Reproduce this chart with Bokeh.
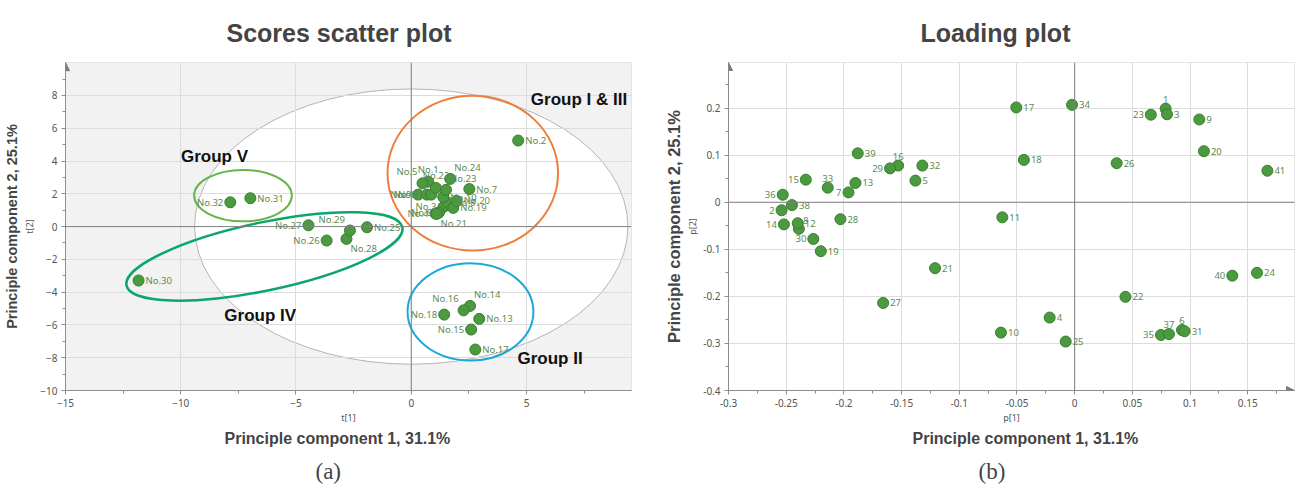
from bokeh.plotting import figure
from bokeh.models import (ColumnDataSource, Range1d, FixedTicker, Span, Title, Arrow, NormalHead)
from bokeh.layouts import row
from bokeh.embed import file_html
from bokeh.resources import INLINE
from bokeh.core.properties import value, field

# ---------------- Scores (a) ----------------
score_names = ["No.1", "No.2", "No.3", "No.4", "No.5", "No.6", "No.7", "No.8", "No.9", "No.10",
               "No.11", "No.12", "No.13", "No.14", "No.15", "No.16", "No.17", "No.18", "No.19", "No.20",
               "No.21", "No.22", "No.23", "No.24", "No.25", "No.26", "No.27", "No.28", "No.29", "No.30",
               "No.31", "No.32"]
score_t1 = [0.74, 4.64, 1.40, 1.05, 0.49, 1.20, 2.52, 1.57, 0.30, 1.39,
            0.68, 0.87, 2.95, 2.55, 2.60, 2.27, 2.78, 1.43, 1.82, 1.97,
            1.10, 1.07, 1.51, 1.69, -1.92, -3.67, -4.46, -2.81, -2.66, -11.83,
            -6.98, -7.85]
score_t2 = [2.74, 5.25, 1.20, 0.80, 2.64, 0.85, 2.29, 1.47, 1.95, 1.80,
            1.95, 1.95, -5.63, -4.84, -6.28, -5.11, -7.50, -5.37, 1.14, 1.57,
            0.77, 2.36, 2.24, 2.91, -0.04, -0.85, 0.08, -0.75, -0.24, -3.29,
            1.73, 1.48]
score_label_pos = ["a", "r", "l", "l", "al", "l", "r", "r", "l", "r",
                   "l", "l", "r", "ar", "l", "al", "r", "l", "r", "r",
                   "br", "a", "ar", "ar", "r", "l", "l", "br", "al", "r",
                   "r", "l"]

group_names = ["Group I & III", "Group II", "Group IV", "Group V"]
group_text_t1 = [5.19, 4.61, -8.11, -9.99]
group_text_t2 = [7.73, -8.07, -5.43, 4.27]

# ellipses (centre, full width, full height) in score units
hotelling = dict(x=0.0, y=0.0, w=18.8, h=16.8)
group_ell_x = [2.67, 2.57, -7.30]
group_ell_y = [3.26, -5.20, 1.89]
group_ell_w = [7.40, 5.46, 4.24]
group_ell_h = [9.45, 5.94, 3.14]
group_ell_color = ["#f07d3c", "#1aa9dc", "#66b54c"]
group4_ell = dict(x=-6.37, y=-1.82)

# ---------------- Loadings (b) ----------------
loading_names = [str(i) for i in range(1, 42)]
loading_p1 = [0.0788, -0.254, 0.080, -0.0217, -0.138, 0.093, -0.196, -0.239, 0.108, -0.0639,
              -0.0627, -0.240, -0.190, -0.252, -0.233, -0.153, -0.0506, -0.044, -0.220, 0.112,
              -0.121, 0.044, 0.066, 0.158, -0.0078, 0.0364, -0.166, -0.203, -0.160, -0.2265,
              0.0953, -0.132, -0.214, -0.0023, 0.0748, -0.253, 0.0817, -0.245, -0.188, 0.1366,
              0.167]
loading_p2 = [0.199, -0.017, 0.187, -0.245, 0.046, -0.2715, 0.021, -0.0565, 0.176, -0.277,
              -0.032, -0.0446, 0.041, -0.047, 0.048, 0.078, 0.2015, 0.090, -0.104, 0.1085,
              -0.140, -0.201, 0.186, -0.150, -0.296, 0.083, -0.214, -0.036, 0.072, -0.078,
              -0.274, 0.078, 0.031, 0.207, -0.282, 0.016, -0.280, -0.006, 0.104, -0.156,
              0.067]
loading_label_pos = ["a", "l", "r", "r", "r", "a", "l", "ar", "r", "r",
                     "r", "r", "r", "l", "l", "a", "r", "r", "r", "r",
                     "r", "r", "l", "r", "r", "r", "r", "r", "l", "l",
                     "r", "r", "a", "r", "l", "l", "a", "r", "r", "l",
                     "r"]

score_x_ticks = [-15, -10, -5, 0, 5]
score_x_minor = [-12.5, -7.5, -2.5, 2.5, 7.5]
score_y_ticks = [-10, -8, -6, -4, -2, 0, 2, 4, 6, 8]
score_y_minor = [-9, -7, -5, -3, -1, 1, 3, 5, 7, 9]
load_x_ticks = [-0.3, -0.25, -0.2, -0.15, -0.1, -0.05, 0, 0.05, 0.1, 0.15]
load_x_labels = ["-0.3", "-0.25", "-0.2", "-0.15", "-0.1", "-0.05", "0", "0.05", "0.1", "0.15"]
load_x_minor = [-0.275, -0.225, -0.175, -0.125, -0.075, -0.025, 0.025, 0.075, 0.125, 0.175]
load_y_ticks = [-0.4, -0.3, -0.2, -0.1, 0, 0.1, 0.2]
load_y_labels = ["-0.4", "-0.3", "-0.2", "-0.1", "0", "0.1", "0.2"]
load_y_minor = [-0.35, -0.25, -0.15, -0.05, 0.05, 0.15, 0.25]

# ---------------- styles ----------------
OFFS = {"r": (7, 0, "left", "middle"), "l": (-7, 0, "right", "middle"),
        "a": (0, -6, "center", "bottom"), "ar": (4, -5, "left", "bottom"),
        "al": (-5, -5, "right", "bottom"), "br": (4, 3, "left", "top")}
PT_FILL = "#4b9a3f"
PT_LINE = "#3a7d30"
LBL_COL = "#5d8b50"
TICK_FONT = "Noto Sans"
AX_COL = "#8c8c8c"


def label_cols(pos):
    return ([OFFS[k][0] for k in pos], [OFFS[k][1] for k in pos],
            [OFFS[k][2] for k in pos], [OFFS[k][3] for k in pos])


def style_axes(p, xt, xm, yt, ym, xlab, ylab):
    p.xaxis.ticker = FixedTicker(ticks=xt, minor_ticks=xm)
    p.yaxis.ticker = FixedTicker(ticks=yt, minor_ticks=ym)
    for ax in (p.xaxis[0], p.yaxis[0]):
        ax.axis_line_color = AX_COL
        ax.major_tick_line_color = AX_COL
        ax.minor_tick_line_color = AX_COL
        ax.major_tick_in = 0
        ax.major_tick_out = 4
        ax.minor_tick_in = 0
        ax.minor_tick_out = 3
        ax.major_label_text_font = TICK_FONT
        ax.major_label_text_font_size = "10px"
        ax.major_label_text_color = "#555555"
        ax.axis_label_text_font = TICK_FONT
        ax.axis_label_text_font_size = "9px"
        ax.axis_label_text_font_style = "normal"
        ax.axis_label_text_color = "#555555"
        ax.axis_label_standoff = 1
        ax.major_label_standoff = 4
    p.xaxis.axis_label = xlab
    p.yaxis.axis_label = ylab
    p.xgrid.grid_line_color = "#dcdcdc"
    p.ygrid.grid_line_color = "#dcdcdc"
    p.add_layout(Span(location=0, dimension="height", line_color="#808080", line_width=1))
    p.add_layout(Span(location=0, dimension="width", line_color="#808080", line_width=1))


def add_titles(p, title, title_off, xl_off, yl_size, yl_off, tag, tag_off):
    p.title.text = title
    p.title.align = "left"
    p.title.offset = title_off
    p.title.text_font = "Liberation Sans"
    p.title.text_font_size = "25px"
    p.title.text_font_style = "bold"
    p.title.standoff = 32
    p.add_layout(Title(text="Principle component 1, 31.1%", align="left", offset=xl_off,
                       text_font="Liberation Sans", text_font_size="16px",
                       text_font_style="bold", standoff=3), "below")
    p.add_layout(Title(text=tag, align="left", offset=tag_off,
                       text_font="Liberation Serif", text_font_size="23px",
                       text_font_style="normal", standoff=16), "below")
    p.add_layout(Title(text="Principle component 2, 25.1%", align="center", offset=yl_off,
                       text_font="Liberation Sans", text_font_size=yl_size,
                       text_font_style="bold", standoff=2), "left")


# ================= figure (a) =================
p1 = figure(frame_width=566, frame_height=328, x_range=Range1d(-15, 9.556), y_range=Range1d(-10, 10.01),
            output_backend="svg", toolbar_location=None,
            min_border_left=58, min_border_right=28, min_border_top=50, min_border_bottom=90,
            background_fill_color="#f2f2f2")
style_axes(p1, score_x_ticks, score_x_minor, score_y_ticks, score_y_minor, "t[1]", "t[2]")
add_titles(p1, "Scores scatter plot", 161, 159, "14.5px", 3, "(a)", 250)

hr = p1.ellipse(x=[hotelling["x"]], y=[hotelling["y"]], width=[hotelling["w"]], height=[hotelling["h"]],
                fill_color="white", line_color="#b4b4b4", line_width=1)
hr.level = "image"

p1.ellipse(x=group_ell_x, y=group_ell_y, width=group_ell_w, height=group_ell_h,
           fill_alpha=0, line_color=group_ell_color, line_width=2)
p1.ellipse(x=[group4_ell["x"]], y=[group4_ell["y"]], width=[282], height=[68], angle=[0.2085],
           width_units="screen", height_units="screen",
           fill_alpha=0, line_color="#0aa66c", line_width=2.5)

xo, yo, al, bl = label_cols(score_label_pos)
src1 = ColumnDataSource(dict(x=score_t1, y=score_t2, name=score_names, xo=xo, yo=yo, al=al, bl=bl))
p1.scatter(x="x", y="y", source=src1, size=11, fill_color=PT_FILL, line_color=PT_LINE, line_width=1)
p1.text(x="x", y="y", text="name", source=src1, x_offset="xo", y_offset="yo",
        text_align=field("al"), text_baseline=field("bl"), text_font=value(TICK_FONT),
        text_font_size="9.5px", text_color=LBL_COL)

p1.text(x=group_text_t1, y=group_text_t2, text=group_names, text_font=value("Liberation Sans"),
        text_font_size="17px", text_font_style="bold", text_color="#111111",
        text_align="left", text_baseline="middle")

p1.add_layout(Arrow(end=NormalHead(size=8, fill_color="#7a7a7a", line_color="#7a7a7a"),
                    x_start=-15, y_start=9.0, x_end=-15, y_end=10.0, line_color=AX_COL))

# ================= figure (b) =================
p2 = figure(frame_width=566, frame_height=328, x_range=Range1d(-0.3, 0.1905), y_range=Range1d(-0.4, 0.297),
            output_backend="svg", toolbar_location=None,
            min_border_left=69, min_border_right=4, min_border_top=50, min_border_bottom=90,
            background_fill_color="white")
style_axes(p2, load_x_ticks, load_x_minor, load_y_ticks, load_y_minor, "p[1]", "p[2]")
p2.xaxis.major_label_overrides = dict(zip(load_x_ticks, load_x_labels))
p2.yaxis.major_label_overrides = dict(zip(load_y_ticks, load_y_labels))
add_titles(p2, "Loading plot", 192, 184, "16.5px", 4, "(b)", 250)

xo, yo, al, bl = label_cols(loading_label_pos)
src2 = ColumnDataSource(dict(x=loading_p1, y=loading_p2, name=loading_names, xo=xo, yo=yo, al=al, bl=bl))
p2.scatter(x="x", y="y", source=src2, size=11, fill_color=PT_FILL, line_color=PT_LINE, line_width=1)
p2.text(x="x", y="y", text="name", source=src2, x_offset="xo", y_offset="yo",
        text_align=field("al"), text_baseline=field("bl"), text_font=value(TICK_FONT),
        text_font_size="9.5px", text_color=LBL_COL)

p2.add_layout(Arrow(end=NormalHead(size=8, fill_color="#7a7a7a", line_color="#7a7a7a"),
                    x_start=-0.3, y_start=0.27, x_end=-0.3, y_end=0.297, line_color=AX_COL))
p2.add_layout(Arrow(end=NormalHead(size=8, fill_color="#7a7a7a", line_color="#7a7a7a"),
                    x_start=0.17, y_start=-0.4, x_end=0.1905, y_end=-0.4, line_color=AX_COL))

layout = row(p1, p2)
open("out.html", "w").write(file_html(layout, INLINE))
